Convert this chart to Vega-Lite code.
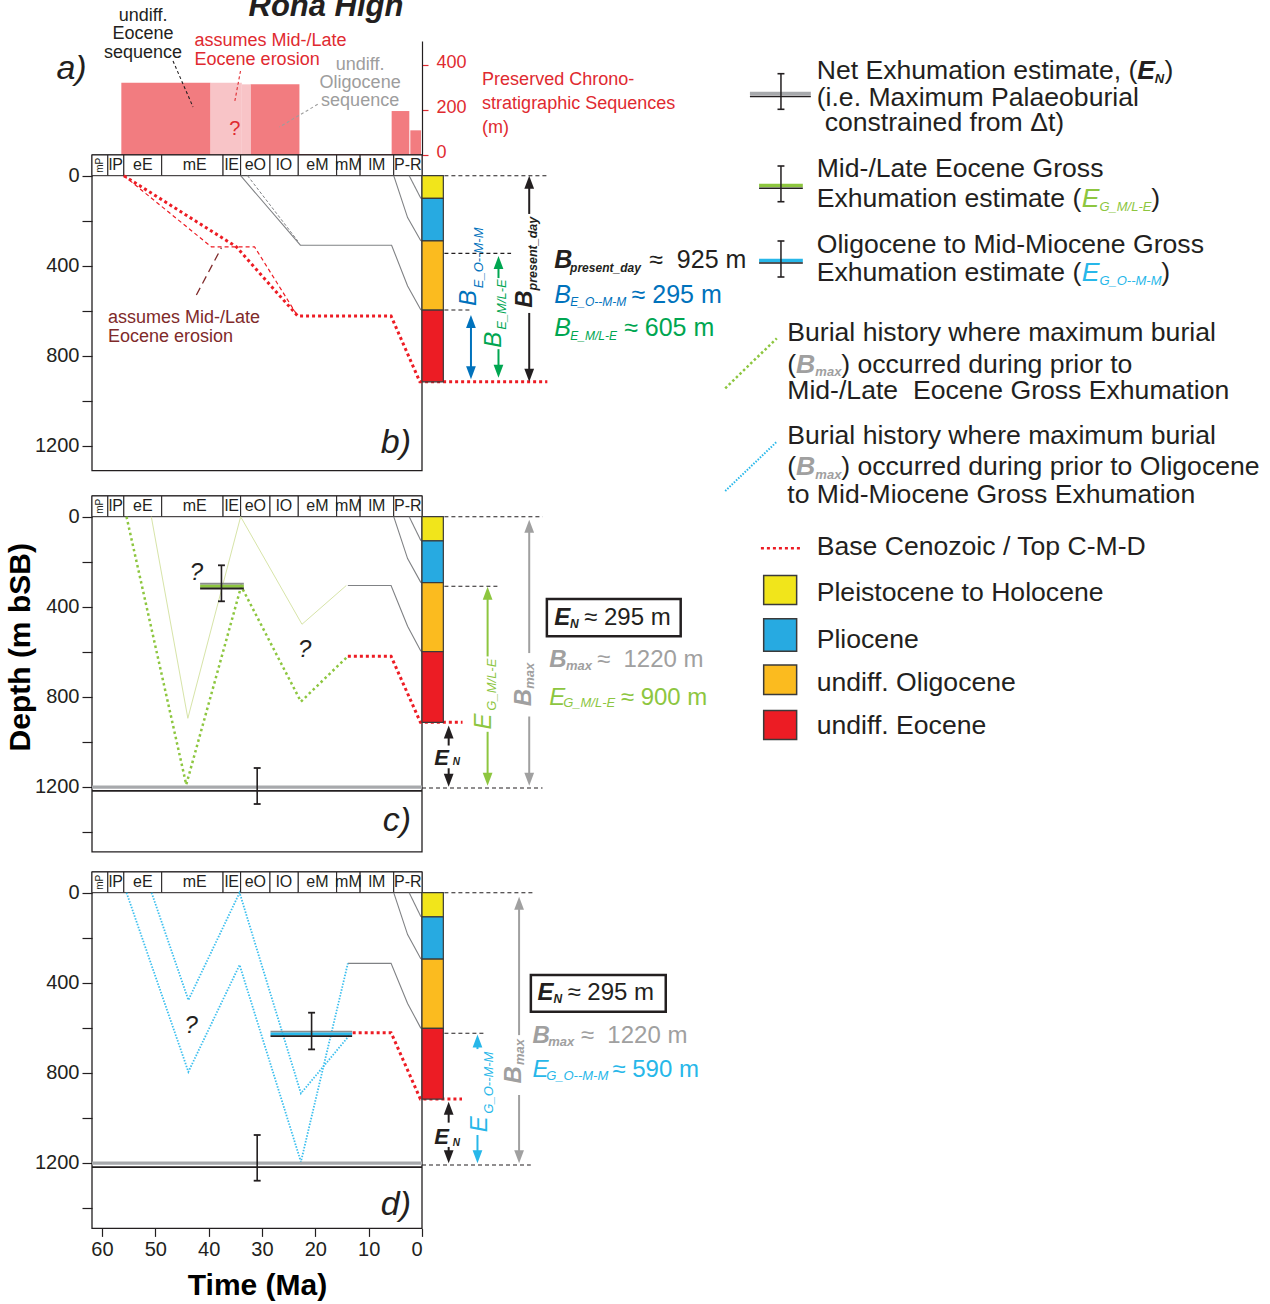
{
"$schema":"https://vega.github.io/schema/vega-lite/v6.json",
"background":"white",
"padding":{"left":6,"top":-10,"right":5,"bottom":5},
"config":{"view":{"stroke":null},"font":"Liberation Sans","axis":{"labelFont":"Liberation Sans","titleFont":"Liberation Sans","grid":false}},
"datasets":{
"strip":[{"t":61.87,"t2":58.9,"d":-92,"d2":0},{"t":58.9,"t2":55.9,"d":-92,"d2":0},{"t":55.9,"t2":48.8,"d":-92,"d2":0},{"t":48.8,"t2":37.3,"d":-92,"d2":0},{"t":37.3,"t2":34.0,"d":-92,"d2":0},{"t":34.0,"t2":28.5,"d":-92,"d2":0},{"t":28.5,"t2":23.2,"d":-92,"d2":0},{"t":23.2,"t2":16.0,"d":-92,"d2":0},{"t":16.0,"t2":11.6,"d":-92,"d2":0},{"t":11.6,"t2":5.3,"d":-92,"d2":0},{"t":5.3,"t2":0,"d":-92,"d2":0}],
"stripLab":[{"t":60.39,"d":-46,"s":"mP"},{"t":57.4,"d":-46,"s":"lP"},{"t":52.35,"d":-46,"s":"eE"},{"t":42.6,"d":-46,"s":"mE"},{"t":35.65,"d":-46,"s":"lE"},{"t":31.25,"d":-46,"s":"eO"},{"t":25.85,"d":-46,"s":"lO"},{"t":19.6,"d":-46,"s":"eM"},{"t":13.8,"d":-46,"s":"mM"},{"t":8.45,"d":-46,"s":"lM"},{"t":2.65,"d":-46,"s":"P-R"}]
},
"spacing":0,
"bounds":"flush",
"vconcat":[
{"width":330,"height":114,
"encoding":{"x":{"field":"t","type":"quantitative","scale":{"domain":[61.87,0],"nice":false,"zero":false},"axis":null},
"y":{"field":"v","type":"quantitative","scale":{"domain":[0,508.2],"nice":false,"zero":false},"axis":{"orient":"right","values":[0,200,400],"format":"d","labelColor":"#df2a30","labelFontSize":18,"labelPadding":8,"labelOffset":-2.5,"tickColor":"#df2a30","tickSize":6,"tickWidth":1.2,"domainColor":"#231f20","domainWidth":1.2,"title":null}}},
"layer":[
{"data":{"values":[{"t":56.37,"t2":39.64,"v":322,"v2":0},{"t":32.15,"t2":22.98,"v":315,"v2":0},{"t":22.98,"t2":5.69,"v":5,"v2":0},{"t":5.69,"t2":2.38,"v":196,"v2":0},{"t":2.19,"t2":0.19,"v":110,"v2":0}]},"mark":{"type":"rect","color":"#f27c80"},"encoding":{"x2":{"field":"t2"},"y2":{"field":"v2"}}},
{"data":{"values":[{"t":39.64,"t2":33.78,"v":322,"v2":0},{"t":33.78,"t2":32.15,"v":315,"v2":0}]},"mark":{"type":"rect","color":"#f8c4c7"},"encoding":{"x2":{"field":"t2"},"y2":{"field":"v2"}}},
{"data":{"values":[{"t":46.68,"t2":42.93,"v":419,"v2":214}]},"mark":{"type":"rule","color":"#231f20","strokeWidth":1.1,"strokeDash":[3,2.5]},"encoding":{"x2":{"field":"t2"},"y2":{"field":"v2"}}},
{"data":{"values":[{"t":34.03,"t2":35.15,"v":374.5,"v2":233.2}]},"mark":{"type":"rule","color":"#df2a30","strokeWidth":1.1,"strokeDash":[3,2.5]},"encoding":{"x2":{"field":"t2"},"y2":{"field":"v2"}}},
{"data":{"values":[{"t":19.55,"t2":26.72,"v":226,"v2":124.8}]},"mark":{"type":"rule","color":"#9d9d9d","strokeWidth":1.1,"strokeDash":[3,2.5]},"encoding":{"x2":{"field":"t2"},"y2":{"field":"v2"}}},
{"data":{"values":[{"t":18.0,"v":619.7,"s":"Rona High"}]},"mark":{"type":"text","align":"center","baseline":"alphabetic","fontSize":31,"fontWeight":"bold","fontStyle":"italic","color":"#231f20"},"encoding":{"text":{"field":"s"}}},
{"data":{"values":[{"t":68.54,"v":337.5,"s":"a)"}]},"mark":{"type":"text","align":"left","baseline":"alphabetic","fontSize":34,"fontStyle":"italic","color":"#231f20"},"encoding":{"text":{"field":"s"}}},
{"data":{"values":[{"t":52.3,"v":617.9,"s":"undiff."},{"t":52.3,"v":540.8,"s":"Eocene"},{"t":52.3,"v":456.1,"s":"sequence"}]},"mark":{"type":"text","align":"center","baseline":"middle","fontSize":18,"color":"#231f20"},"encoding":{"text":{"field":"s"}}},
{"data":{"values":[{"t":42.64,"v":508.2,"s":"assumes Mid-/Late"},{"t":42.64,"v":422,"s":"Eocene erosion"},{"t":-11.27,"v":334.4,"s":"Preserved Chrono-"},{"t":-11.27,"v":227.4,"s":"stratigraphic Sequences"},{"t":-11.27,"v":120.4,"s":"(m)"}]},"mark":{"type":"text","align":"left","baseline":"middle","fontSize":18,"color":"#df2a30"},"encoding":{"text":{"field":"s"}}},
{"data":{"values":[{"t":35.1,"v":114.6,"s":"?"}]},"mark":{"type":"text","align":"center","baseline":"middle","fontSize":20,"color":"#df2a30"},"encoding":{"text":{"field":"s"}}},
{"data":{"values":[{"t":11.6,"v":401.2,"s":"undiff."},{"t":11.6,"v":322.3,"s":"Oligocene"},{"t":11.6,"v":240.7,"s":"sequence"}]},"mark":{"type":"text","align":"center","baseline":"middle","fontSize":18,"color":"#9d9d9d"},"encoding":{"text":{"field":"s"}}}
]},
{"width":330,"height":340.7,
"encoding":{"x":{"field":"t","type":"quantitative","scale":{"domain":[61.87,0],"nice":false,"zero":false},"axis":null},
"y":{"field":"d","type":"quantitative","scale":{"domain":[-92,1422.2],"nice":false,"zero":false,"reverse":true},"axis":{"values":[0,200,400,600,800,1000,1200],"format":"d","labelExpr":"datum.value % 400 === 0 ? datum.label : ''","labelFontSize":20,"labelColor":"#231f20","labelPadding":3,"tickSize":10,"tickColor":"#231f20","tickWidth":1.2,"domain":false,"title":null}}},
"layer":[
{"data":{"values":[{"t":61.87,"t2":0,"d":-92,"d2":1311}]},"mark":{"type":"rect","filled":false,"color":"#231f20","strokeWidth":1.3},"encoding":{"x2":{"field":"t2"},"y2":{"field":"d2"}}},
{"data":{"name":"strip"},"mark":{"type":"rect","fill":"white","stroke":"#231f20","strokeWidth":1},"encoding":{"x2":{"field":"t2"},"y2":{"field":"d2"}}},
{"data":{"name":"stripLab"},"transform":[{"filter":"datum.s !== 'mP'"}],"mark":{"type":"text","align":"center","baseline":"middle","fontSize":16,"color":"#231f20"},"encoding":{"text":{"field":"s"}}},
{"data":{"name":"stripLab"},"transform":[{"filter":"datum.s === 'mP'"}],"mark":{"type":"text","align":"center","baseline":"middle","fontSize":10,"angle":270,"color":"#231f20"},"encoding":{"text":{"field":"s"}}},
{"data":{"values":[{"i":0,"t":55.9,"d":0},{"i":1,"t":39.5,"d":316},{"i":2,"t":31.4,"d":316},{"i":3,"t":23.3,"d":624}]},"mark":{"type":"line","color":"#ed1c24","strokeWidth":1.2,"strokeDash":[4,3]},"encoding":{"order":{"field":"i"}}},
{"data":{"values":[{"p":1,"i":0,"t":34.0,"d":0},{"p":1,"i":1,"t":22.8,"d":309},{"p":1,"i":2,"t":5.7,"d":309},{"p":1,"i":3,"t":2.7,"d":490},{"p":1,"i":4,"t":0.2,"d":597},{"p":2,"i":0,"t":5.3,"d":0},{"p":2,"i":1,"t":2.7,"d":186},{"p":2,"i":2,"t":0.2,"d":290},{"p":3,"i":0,"t":2.4,"d":0},{"p":3,"i":1,"t":0.2,"d":101}]},"mark":{"type":"line","color":"#808285","strokeWidth":1.1},"encoding":{"detail":{"field":"p"},"order":{"field":"i"}}},
{"data":{"values":[{"i":0,"t":32.7,"d":0},{"i":1,"t":23.3,"d":290}]},"mark":{"type":"line","color":"#808285","strokeWidth":1,"strokeDash":[3,2]},"encoding":{"order":{"field":"i"}}},
{"data":{"values":[{"i":0,"t":55.9,"d":0},{"i":1,"t":34.8,"d":316},{"i":2,"t":23.3,"d":624},{"i":3,"t":5.8,"d":624},{"i":4,"t":0.4,"d":916},{"i":5,"t":-23.5,"d":916}]},"mark":{"type":"line","color":"#ed1c24","strokeWidth":3,"strokeDash":[3,3]},"encoding":{"order":{"field":"i"}}},
{"data":{"values":[{"t":42.3,"t2":37.6,"d":530,"d2":320}]},"mark":{"type":"rule","color":"#7f2a2a","strokeWidth":1.3,"strokeDash":[8,5]},"encoding":{"x2":{"field":"t2"},"y2":{"field":"d2"}}},
{"data":{"values":[{"t":58.87,"d":634,"s":"assumes Mid-/Late"},{"t":58.87,"d":714.7,"s":"Eocene erosion"}]},"mark":{"type":"text","align":"left","baseline":"middle","fontSize":18,"color":"#7f2a2a"},"encoding":{"text":{"field":"s"}}},
{"data":{"values":[{"t":2.06,"d":1231,"s":"b)"}]},"mark":{"type":"text","align":"right","baseline":"alphabetic","fontSize":34,"fontStyle":"italic","color":"#231f20"},"encoding":{"text":{"field":"s"}}},
{"data":{"values":[{"t":0,"t2":-4.0,"d":0,"d2":101,"unit":"Pleistocene to Holocene"},{"t":0,"t2":-4.0,"d":101,"d2":290,"unit":"Pliocene"},{"t":0,"t2":-4.0,"d":290,"d2":597,"unit":"undiff. Oligocene"},{"t":0,"t2":-4.0,"d":597,"d2":916,"unit":"undiff. Eocene"}]},"mark":{"type":"rect","stroke":"#3a3a3a","strokeWidth":1.2},"encoding":{"x2":{"field":"t2"},"y2":{"field":"d2"},"color":{"field":"unit","type":"nominal","scale":{"domain":["Pleistocene to Holocene","Pliocene","undiff. Oligocene","undiff. Eocene"],"range":["#f1e51b","#27aae1","#fbbb1f","#ec1c24"]},"legend":null}}},
{"data":{"values":[{"t":-4.2,"t2":-23.5,"d":0},{"t":-4.2,"t2":-16.7,"d":345},{"t":-4.2,"t2":-9.2,"d":597}]},"mark":{"type":"rule","color":"#231f20","strokeWidth":1.1,"strokeDash":[4,3]},"encoding":{"x2":{"field":"t2"}}},
{"data":{"values":[{"t":-20.1,"d":28.9,"d2":170},{"t":-20.1,"d":610,"d2":887}]},"mark":{"type":"rule","color":"#231f20","strokeWidth":2},"encoding":{"y2":{"field":"d2"}}},
{"data":{"values":[{"t":-20.1,"d":28.9,"dir":"up"},{"t":-20.1,"d":887,"dir":"down"}]},"mark":{"type":"point","filled":true,"opacity":1,"size":169,"color":"#231f20","strokeWidth":0},"encoding":{"shape":{"field":"dir","type":"nominal","scale":{"domain":["up","down"],"range":["M-0.75,1L0,-1L0.75,1Z","M-0.75,-1L0,1L0.75,-1Z"]},"legend":null}}},
{"data":{"values":[{"t":-14.34,"d":386,"d2":455},{"t":-14.34,"d":771,"d2":869}]},"mark":{"type":"rule","color":"#00a651","strokeWidth":2},"encoding":{"y2":{"field":"d2"}}},
{"data":{"values":[{"t":-14.34,"d":386,"dir":"up"},{"t":-14.34,"d":869,"dir":"down"}]},"mark":{"type":"point","filled":true,"opacity":1,"size":169,"color":"#00a651","strokeWidth":0},"encoding":{"shape":{"field":"dir","type":"nominal","scale":{"domain":["up","down"],"range":["M-0.75,1L0,-1L0.75,1Z","M-0.75,-1L0,1L0.75,-1Z"]},"legend":null}}},
{"data":{"values":[{"t":-9.18,"d":648,"d2":876}]},"mark":{"type":"rule","color":"#0072bc","strokeWidth":2},"encoding":{"y2":{"field":"d2"}}},
{"data":{"values":[{"t":-9.18,"d":648,"dir":"up"},{"t":-9.18,"d":876,"dir":"down"}]},"mark":{"type":"point","filled":true,"opacity":1,"size":169,"color":"#0072bc","strokeWidth":0},"encoding":{"shape":{"field":"dir","type":"nominal","scale":{"domain":["up","down"],"range":["M-0.75,1L0,-1L0.75,1Z","M-0.75,-1L0,1L0.75,-1Z"]},"legend":null}}},
{"data":{"values":[{"t":-20.66,"d":586.7,"s":"B"}]},"mark":{"type":"text","angle":270,"align":"left","baseline":"alphabetic","fontSize":24,"fontWeight":"bold","fontStyle":"italic","color":"#231f20"},"encoding":{"text":{"field":"s"}}},
{"data":{"values":[{"t":-21.6,"d":510,"s":"present_day"}]},"mark":{"type":"text","angle":270,"align":"left","baseline":"alphabetic","fontSize":12.5,"fontWeight":"bold","fontStyle":"italic","color":"#231f20"},"encoding":{"text":{"field":"s"}}},
{"data":{"values":[{"t":-14.79,"d":764.4,"s":"B"}]},"mark":{"type":"text","angle":270,"align":"left","baseline":"alphabetic","fontSize":24,"fontStyle":"italic","color":"#00a651"},"encoding":{"text":{"field":"s"}}},
{"data":{"values":[{"t":-15.8,"d":685,"s":"E_M/L-E"}]},"mark":{"type":"text","angle":270,"align":"left","baseline":"alphabetic","fontSize":13,"fontStyle":"italic","color":"#00a651"},"encoding":{"text":{"field":"s"}}},
{"data":{"values":[{"t":-10.11,"d":579,"s":"B"}]},"mark":{"type":"text","angle":270,"align":"left","baseline":"alphabetic","fontSize":24,"fontStyle":"italic","color":"#0072bc"},"encoding":{"text":{"field":"s"}}},
{"data":{"values":[{"t":-11.48,"d":500,"s":"E_O--M-M"}]},"mark":{"type":"text","angle":270,"align":"left","baseline":"alphabetic","fontSize":13,"fontStyle":"italic","color":"#0072bc"},"encoding":{"text":{"field":"s"}}},
{"data":{"values":[{"t":-24.78,"d":408.9,"s":"B"}]},"mark":{"type":"text","align":"left","baseline":"alphabetic","fontSize":25,"fontWeight":"bold","fontStyle":"italic","color":"#231f20"},"encoding":{"text":{"field":"s"}}},
{"data":{"values":[{"t":-27.77,"d":425.8,"s":"present_day"}]},"mark":{"type":"text","align":"left","baseline":"alphabetic","fontSize":12,"fontWeight":"bold","fontStyle":"italic","color":"#231f20"},"encoding":{"text":{"field":"s"}}},
{"data":{"values":[{"t":-42.6,"d":408.9,"s":"≈\u00a0 925 m"}]},"mark":{"type":"text","align":"left","baseline":"alphabetic","fontSize":25,"color":"#231f20"},"encoding":{"text":{"field":"s"}}},
{"data":{"values":[{"t":-24.78,"d":564.4,"s":"B"}]},"mark":{"type":"text","align":"left","baseline":"alphabetic","fontSize":25,"fontStyle":"italic","color":"#0072bc"},"encoding":{"text":{"field":"s"}}},
{"data":{"values":[{"t":-39.3,"d":564.4,"s":"≈ 295 m"}]},"mark":{"type":"text","align":"left","baseline":"alphabetic","fontSize":25,"color":"#0072bc"},"encoding":{"text":{"field":"s"}}},
{"data":{"values":[{"t":-27.8,"d":579.1,"s":"E_O--M-M"}]},"mark":{"type":"text","align":"left","baseline":"alphabetic","fontSize":12,"fontStyle":"italic","color":"#0072bc"},"encoding":{"text":{"field":"s"}}},
{"data":{"values":[{"t":-24.78,"d":712.4,"s":"B"}]},"mark":{"type":"text","align":"left","baseline":"alphabetic","fontSize":25,"fontStyle":"italic","color":"#00a651"},"encoding":{"text":{"field":"s"}}},
{"data":{"values":[{"t":-37.9,"d":712.4,"s":"≈ 605 m"}]},"mark":{"type":"text","align":"left","baseline":"alphabetic","fontSize":25,"color":"#00a651"},"encoding":{"text":{"field":"s"}}},
{"data":{"values":[{"t":-27.8,"d":728,"s":"E_M/L-E"}]},"mark":{"type":"text","align":"left","baseline":"alphabetic","fontSize":12,"fontStyle":"italic","color":"#00a651"},"encoding":{"text":{"field":"s"}}},
{"data":{"values":[{"t":-61.48,"t2":-72.9,"d":-365}]},"mark":{"type":"rule","color":"#a7a9ac","strokeWidth":3.5},"encoding":{"x2":{"field":"t2"}}},
{"data":{"values":[{"t":-63.2,"t2":-71.4,"d":43.6}]},"mark":{"type":"rule","color":"#8dc63f","strokeWidth":3.5},"encoding":{"x2":{"field":"t2"}}},
{"data":{"values":[{"t":-63.2,"t2":-71.4,"d":376.9}]},"mark":{"type":"rule","color":"#27b7e9","strokeWidth":3.5},"encoding":{"x2":{"field":"t2"}}},
{"data":{"values":[{"t":-61.48,"t2":-72.9,"d":-352},{"t":-63.2,"t2":-71.4,"d":56},{"t":-63.2,"t2":-71.4,"d":388},{"t":-66.65,"t2":-67.95,"d":-453.3},{"t":-66.65,"t2":-67.95,"d":-295.1},{"t":-66.65,"t2":-67.95,"d":-43.1},{"t":-66.65,"t2":-67.95,"d":115.6},{"t":-66.65,"t2":-67.95,"d":290.2},{"t":-66.65,"t2":-67.95,"d":450.2}]},"mark":{"type":"rule","color":"#231f20","strokeWidth":1.6},"encoding":{"x2":{"field":"t2"}}},
{"data":{"values":[{"t":-67.3,"d":-453.3,"d2":-295.1},{"t":-67.3,"d":-43.1,"d2":115.6},{"t":-67.3,"d":290.2,"d2":450.2}]},"mark":{"type":"rule","color":"#231f20","strokeWidth":1.5},"encoding":{"y2":{"field":"d2"}}},
{"data":{"values":[{"t":-56.85,"t2":-66.52,"d":944.9,"d2":722.7}]},"mark":{"type":"rule","color":"#8dc63f","strokeWidth":2.5,"strokeDash":[2.5,2.5]},"encoding":{"x2":{"field":"t2"},"y2":{"field":"d2"}}},
{"data":{"values":[{"t":-56.85,"t2":-66.52,"d":1401.3,"d2":1182.2}]},"mark":{"type":"rule","color":"#27b7e9","strokeWidth":2,"strokeDash":[1.5,1.5]},"encoding":{"x2":{"field":"t2"},"y2":{"field":"d2"}}},
{"data":{"values":[{"t":-63.54,"t2":-70.92,"d":1656}]},"mark":{"type":"rule","color":"#ed1c24","strokeWidth":2.5,"strokeDash":[3,3]},"encoding":{"x2":{"field":"t2"}}},
{"data":{"values":[{"t":-64.06,"t2":-70.24,"d":1776.4,"d2":1905.3,"unit":"Pleistocene to Holocene"},{"t":-64.06,"t2":-70.24,"d":1969.3,"d2":2113.3,"unit":"Pliocene"},{"t":-64.06,"t2":-70.24,"d":2174.7,"d2":2305.3,"unit":"undiff. Oligocene"},{"t":-64.06,"t2":-70.24,"d":2376.4,"d2":2505.3,"unit":"undiff. Eocene"}]},"mark":{"type":"rect","stroke":"#3a3a3a","strokeWidth":1.5},"encoding":{"x2":{"field":"t2"},"y2":{"field":"d2"},"color":{"field":"unit","type":"nominal","scale":{"domain":["Pleistocene to Holocene","Pliocene","undiff. Oligocene","undiff. Eocene"],"range":["#f1e51b","#27aae1","#fbbb1f","#ec1c24"]},"legend":null}}},
{"data":{"values":[
{"t":-74.0,"d":-428.4,"s":"Net Exhumation estimate, ("},
{"t":-74.0,"d":-309.8,"s":"(i.e. Maximum Palaeoburial"},
{"t":-75.5,"d":-198.7,"s":"constrained from Δt)"},
{"t":-139.2,"d":-428.4,"s":")"},
{"t":-74.0,"d":5.8,"s":"Mid-/Late Eocene Gross"},
{"t":-74.0,"d":139.1,"s":"Exhumation estimate ("},
{"t":-136.7,"d":139.1,"s":")"},
{"t":-74.0,"d":342.2,"s":"Oligocene to Mid-Miocene Gross"},
{"t":-74.0,"d":468,"s":"Exhumation estimate ("},
{"t":-138.6,"d":468,"s":")"},
{"t":-68.48,"d":734.7,"s":"Burial history where maximum burial"},
{"t":-68.48,"d":875.6,"s":"("},
{"t":-78.6,"d":875.6,"s":") occurred during prior to"},
{"t":-68.48,"d":993.8,"s":"Mid-/Late\u00a0 Eocene Gross Exhumation"},
{"t":-68.48,"d":1191.1,"s":"Burial history where maximum burial"},
{"t":-68.48,"d":1331.6,"s":"("},
{"t":-78.6,"d":1331.6,"s":") occurred during prior to Oligocene"},
{"t":-68.48,"d":1453.3,"s":"to Mid-Miocene Gross Exhumation"},
{"t":-74.0,"d":1685.8,"s":"Base Cenozoic / Top C-M-D"},
{"t":-74.0,"d":1890.2,"s":"Pleistocene to Holocene"},
{"t":-74.0,"d":2097.8,"s":"Pliocene"},
{"t":-74.0,"d":2290.2,"s":"undiff. Oligocene"},
{"t":-74.0,"d":2482.7,"s":"undiff. Eocene"}
]},"mark":{"type":"text","align":"left","baseline":"alphabetic","fontSize":26.6,"color":"#231f20"},"encoding":{"text":{"field":"s"}}},
{"data":{"values":[{"t":-134.1,"d":-428.4,"s":"E"}]},"mark":{"type":"text","align":"left","baseline":"alphabetic","fontSize":26.6,"fontWeight":"bold","fontStyle":"italic","color":"#231f20"},"encoding":{"text":{"field":"s"}}},
{"data":{"values":[{"t":-137.4,"d":-412.9,"s":"N"}]},"mark":{"type":"text","align":"left","baseline":"alphabetic","fontSize":13,"fontWeight":"bold","fontStyle":"italic","color":"#231f20"},"encoding":{"text":{"field":"s"}}},
{"data":{"values":[{"t":-123.7,"d":139.1,"s":"E"}]},"mark":{"type":"text","align":"left","baseline":"alphabetic","fontSize":26.6,"fontStyle":"italic","color":"#8dc63f"},"encoding":{"text":{"field":"s"}}},
{"data":{"values":[{"t":-127.0,"d":154.7,"s":"G_M/L-E"}]},"mark":{"type":"text","align":"left","baseline":"alphabetic","fontSize":13,"fontStyle":"italic","color":"#8dc63f"},"encoding":{"text":{"field":"s"}}},
{"data":{"values":[{"t":-123.7,"d":468,"s":"E"}]},"mark":{"type":"text","align":"left","baseline":"alphabetic","fontSize":26.6,"fontStyle":"italic","color":"#27b7e9"},"encoding":{"text":{"field":"s"}}},
{"data":{"values":[{"t":-127.0,"d":483.6,"s":"G_O--M-M"}]},"mark":{"type":"text","align":"left","baseline":"alphabetic","fontSize":13,"fontStyle":"italic","color":"#27b7e9"},"encoding":{"text":{"field":"s"}}},
{"data":{"values":[{"t":-70.14,"d":875.6,"s":"B"},{"t":-70.14,"d":1331.6,"s":"B"}]},"mark":{"type":"text","align":"left","baseline":"alphabetic","fontSize":26.6,"fontWeight":"bold","fontStyle":"italic","color":"#a0a0a0"},"encoding":{"text":{"field":"s"}}},
{"data":{"values":[{"t":-73.75,"d":890.2,"s":"max"},{"t":-73.75,"d":1346.2,"s":"max"}]},"mark":{"type":"text","align":"left","baseline":"alphabetic","fontSize":13,"fontWeight":"bold","fontStyle":"italic","color":"#a0a0a0"},"encoding":{"text":{"field":"s"}}}
]},
{"width":330,"height":375.6,
"encoding":{"x":{"field":"t","type":"quantitative","scale":{"domain":[61.87,0],"nice":false,"zero":false},"axis":null},
"y":{"field":"d","type":"quantitative","scale":{"domain":[-92,1577.3],"nice":false,"zero":false,"reverse":true},"axis":{"values":[0,200,400,600,800,1000,1200,1400],"format":"d","labelExpr":"datum.value % 400 === 0 ? datum.label : ''","labelFontSize":20,"labelColor":"#231f20","labelPadding":3,"tickSize":10,"tickColor":"#231f20","tickWidth":1.2,"domain":false,"title":null}}},
"layer":[
{"data":{"values":[{"t":61.87,"t2":0,"d":-92,"d2":1490}]},"mark":{"type":"rect","filled":false,"color":"#231f20","strokeWidth":1.3},"encoding":{"x2":{"field":"t2"},"y2":{"field":"d2"}}},
{"data":{"name":"strip"},"mark":{"type":"rect","fill":"white","stroke":"#231f20","strokeWidth":1},"encoding":{"x2":{"field":"t2"},"y2":{"field":"d2"}}},
{"data":{"name":"stripLab"},"transform":[{"filter":"datum.s !== 'mP'"}],"mark":{"type":"text","align":"center","baseline":"middle","fontSize":16,"color":"#231f20"},"encoding":{"text":{"field":"s"}}},
{"data":{"name":"stripLab"},"transform":[{"filter":"datum.s === 'mP'"}],"mark":{"type":"text","align":"center","baseline":"middle","fontSize":10,"angle":270,"color":"#231f20"},"encoding":{"text":{"field":"s"}}},
{"data":{"values":[{"i":0,"t":50.75,"d":0},{"i":1,"t":43.9,"d":896},{"i":2,"t":34.0,"d":0},{"i":3,"t":22.5,"d":478},{"i":4,"t":14.2,"d":306}]},"mark":{"type":"line","color":"#d7e4a8","strokeWidth":1},"encoding":{"order":{"field":"i"}}},
{"data":{"values":[{"p":1,"i":0,"t":13.9,"d":306},{"p":1,"i":1,"t":5.8,"d":306},{"p":1,"i":2,"t":2.7,"d":487},{"p":1,"i":3,"t":0.2,"d":598},{"p":2,"i":0,"t":5.3,"d":0},{"p":2,"i":1,"t":2.7,"d":186},{"p":2,"i":2,"t":0.2,"d":293},{"p":3,"i":0,"t":2.4,"d":0},{"p":3,"i":1,"t":0.2,"d":107}]},"mark":{"type":"line","color":"#808285","strokeWidth":1.1},"encoding":{"detail":{"field":"p"},"order":{"field":"i"}}},
{"data":{"values":[{"i":0,"t":55.4,"d":0},{"i":1,"t":44.2,"d":1191},{"i":2,"t":33.9,"d":309},{"i":3,"t":22.7,"d":822},{"i":4,"t":13.9,"d":620}]},"mark":{"type":"line","color":"#8dc63f","strokeWidth":2.5,"strokeDash":[2.5,3]},"encoding":{"order":{"field":"i"}}},
{"data":{"values":[{"i":0,"t":13.9,"d":620},{"i":1,"t":5.8,"d":620},{"i":2,"t":0.3,"d":914},{"i":3,"t":-7.6,"d":914}]},"mark":{"type":"line","color":"#ed1c24","strokeWidth":3,"strokeDash":[3,3]},"encoding":{"order":{"field":"i"}}},
{"data":{"values":[{"t":61.87,"t2":0,"d":1201.8}]},"mark":{"type":"rule","color":"#a7a9ac","strokeWidth":3.2},"encoding":{"x2":{"field":"t2"}}},
{"data":{"values":[{"t":41.6,"t2":33.4,"d":298}]},"mark":{"type":"rule","color":"#8a8c8e","strokeWidth":1.8},"encoding":{"x2":{"field":"t2"}}},
{"data":{"values":[{"t":41.6,"t2":33.4,"d":309}]},"mark":{"type":"rule","color":"#8dc63f","strokeWidth":3},"encoding":{"x2":{"field":"t2"}}},
{"data":{"values":[{"t":61.87,"t2":0,"d":1218.2},{"t":41.6,"t2":33.4,"d":319},{"t":38.25,"t2":36.95,"d":216},{"t":38.25,"t2":36.95,"d":376},{"t":31.55,"t2":30.25,"d":1116.9},{"t":31.55,"t2":30.25,"d":1276.9}]},"mark":{"type":"rule","color":"#231f20","strokeWidth":1.8},"encoding":{"x2":{"field":"t2"}}},
{"data":{"values":[{"t":37.6,"d":216,"d2":376},{"t":30.9,"d":1116.9,"d2":1276.9}]},"mark":{"type":"rule","color":"#231f20","strokeWidth":1.6},"encoding":{"y2":{"field":"d2"}}},
{"data":{"values":[{"t":42.3,"d":251.6,"s":"?"},{"t":22.0,"d":593.8,"s":"?"}]},"mark":{"type":"text","align":"center","baseline":"middle","fontSize":24,"fontStyle":"italic","color":"#231f20"},"encoding":{"text":{"field":"s"}}},
{"data":{"values":[{"t":2.06,"d":1398,"s":"c)"}]},"mark":{"type":"text","align":"right","baseline":"alphabetic","fontSize":34,"fontStyle":"italic","color":"#231f20"},"encoding":{"text":{"field":"s"}}},
{"data":{"values":[{"t":75.13,"d":580.4,"s":"Depth (m bSB)"}]},"mark":{"type":"text","angle":270,"align":"center","baseline":"middle","fontSize":30,"fontWeight":"bold","color":"#000000"},"encoding":{"text":{"field":"s"}}},
{"data":{"values":[{"t":0,"t2":-4.0,"d":0,"d2":107,"unit":"Pleistocene to Holocene"},{"t":0,"t2":-4.0,"d":107,"d2":293,"unit":"Pliocene"},{"t":0,"t2":-4.0,"d":293,"d2":600,"unit":"undiff. Oligocene"},{"t":0,"t2":-4.0,"d":600,"d2":914,"unit":"undiff. Eocene"}]},"mark":{"type":"rect","stroke":"#3a3a3a","strokeWidth":1.2},"encoding":{"x2":{"field":"t2"},"y2":{"field":"d2"},"color":{"field":"unit","type":"nominal","scale":{"domain":["Pleistocene to Holocene","Pliocene","undiff. Oligocene","undiff. Eocene"],"range":["#f1e51b","#27aae1","#fbbb1f","#ec1c24"]},"legend":null}}},
{"data":{"values":[{"t":-4.2,"t2":-22.6,"d":0},{"t":-4.2,"t2":-14.2,"d":309},{"t":0,"t2":-22.6,"d":1206}]},"mark":{"type":"rule","color":"#231f20","strokeWidth":1.1,"strokeDash":[4,3]},"encoding":{"x2":{"field":"t2"}}},
{"data":{"values":[{"t":-5.0,"d":957,"d2":1017},{"t":-5.0,"d":1118,"d2":1171}]},"mark":{"type":"rule","color":"#231f20","strokeWidth":2},"encoding":{"y2":{"field":"d2"}}},
{"data":{"values":[{"t":-5.0,"d":957,"dir":"up"},{"t":-5.0,"d":1171,"dir":"down"}]},"mark":{"type":"point","filled":true,"opacity":1,"size":169,"color":"#231f20","strokeWidth":0},"encoding":{"shape":{"field":"dir","type":"nominal","scale":{"domain":["up","down"],"range":["M-0.75,1L0,-1L0.75,1Z","M-0.75,-1L0,1L0.75,-1Z"]},"legend":null}}},
{"data":{"values":[{"t":-12.3,"d":340,"d2":621},{"t":-12.3,"d":956,"d2":1167}]},"mark":{"type":"rule","color":"#8dc63f","strokeWidth":2},"encoding":{"y2":{"field":"d2"}}},
{"data":{"values":[{"t":-12.3,"d":340,"dir":"up"},{"t":-12.3,"d":1167,"dir":"down"}]},"mark":{"type":"point","filled":true,"opacity":1,"size":169,"color":"#8dc63f","strokeWidth":0},"encoding":{"shape":{"field":"dir","type":"nominal","scale":{"domain":["up","down"],"range":["M-0.75,1L0,-1L0.75,1Z","M-0.75,-1L0,1L0.75,-1Z"]},"legend":null}}},
{"data":{"values":[{"t":-20.1,"d":42,"d2":606},{"t":-20.1,"d":888,"d2":1167}]},"mark":{"type":"rule","color":"#a0a0a0","strokeWidth":2},"encoding":{"y2":{"field":"d2"}}},
{"data":{"values":[{"t":-20.1,"d":42,"dir":"up"},{"t":-20.1,"d":1167,"dir":"down"}]},"mark":{"type":"point","filled":true,"opacity":1,"size":169,"color":"#a0a0a0","strokeWidth":0},"encoding":{"shape":{"field":"dir","type":"nominal","scale":{"domain":["up","down"],"range":["M-0.75,1L0,-1L0.75,1Z","M-0.75,-1L0,1L0.75,-1Z"]},"legend":null}}},
{"data":{"values":[{"t":-2.30,"d":1101.6,"s":"E"}]},"mark":{"type":"text","align":"left","baseline":"alphabetic","fontSize":22,"fontWeight":"bold","fontStyle":"italic","color":"#231f20"},"encoding":{"text":{"field":"s"}}},
{"data":{"values":[{"t":-5.77,"d":1104.9,"s":"N"}]},"mark":{"type":"text","align":"left","baseline":"alphabetic","fontSize":10,"fontWeight":"bold","fontStyle":"italic","color":"#231f20"},"encoding":{"text":{"field":"s"}}},
{"data":{"values":[{"t":-12.92,"d":946,"s":"E"}]},"mark":{"type":"text","angle":270,"align":"left","baseline":"alphabetic","fontSize":24,"fontStyle":"italic","color":"#8dc63f"},"encoding":{"text":{"field":"s"}}},
{"data":{"values":[{"t":-13.86,"d":862,"s":"G_M/L-E"}]},"mark":{"type":"text","angle":270,"align":"left","baseline":"alphabetic","fontSize":13,"fontStyle":"italic","color":"#8dc63f"},"encoding":{"text":{"field":"s"}}},
{"data":{"values":[{"t":-20.41,"d":842,"s":"B"}]},"mark":{"type":"text","angle":270,"align":"left","baseline":"alphabetic","fontSize":24,"fontWeight":"bold","fontStyle":"italic","color":"#a0a0a0"},"encoding":{"text":{"field":"s"}}},
{"data":{"values":[{"t":-21.03,"d":765,"s":"max"}]},"mark":{"type":"text","angle":270,"align":"left","baseline":"alphabetic","fontSize":13,"fontWeight":"bold","fontStyle":"italic","color":"#a0a0a0"},"encoding":{"text":{"field":"s"}}},
{"data":{"values":[{"t":-23.41,"t2":-48.5,"d":365.8,"d2":531.6}]},"mark":{"type":"rect","fill":"white","stroke":"#231f20","strokeWidth":2.5},"encoding":{"x2":{"field":"t2"},"y2":{"field":"d2"}}},
{"data":{"values":[{"t":-24.78,"d":482.7,"s":"E"}]},"mark":{"type":"text","align":"left","baseline":"alphabetic","fontSize":24,"fontWeight":"bold","fontStyle":"italic","color":"#231f20"},"encoding":{"text":{"field":"s"}}},
{"data":{"values":[{"t":-27.77,"d":496,"s":"N"}]},"mark":{"type":"text","align":"left","baseline":"alphabetic","fontSize":12,"fontWeight":"bold","fontStyle":"italic","color":"#231f20"},"encoding":{"text":{"field":"s"}}},
{"data":{"values":[{"t":-30.39,"d":482.7,"s":"≈ 295 m"}]},"mark":{"type":"text","align":"left","baseline":"alphabetic","fontSize":24,"color":"#231f20"},"encoding":{"text":{"field":"s"}}},
{"data":{"values":[{"t":-23.84,"d":667.6,"s":"B"}]},"mark":{"type":"text","align":"left","baseline":"alphabetic","fontSize":24,"fontWeight":"bold","fontStyle":"italic","color":"#a0a0a0"},"encoding":{"text":{"field":"s"}}},
{"data":{"values":[{"t":-27.0,"d":682,"s":"max"}]},"mark":{"type":"text","align":"left","baseline":"alphabetic","fontSize":13,"fontWeight":"bold","fontStyle":"italic","color":"#a0a0a0"},"encoding":{"text":{"field":"s"}}},
{"data":{"values":[{"t":-32.8,"d":667.6,"s":"≈\u00a0 1220 m"}]},"mark":{"type":"text","align":"left","baseline":"alphabetic","fontSize":24,"color":"#a0a0a0"},"encoding":{"text":{"field":"s"}}},
{"data":{"values":[{"t":-23.84,"d":835,"s":"E"}]},"mark":{"type":"text","align":"left","baseline":"alphabetic","fontSize":24,"fontStyle":"italic","color":"#8dc63f"},"encoding":{"text":{"field":"s"}}},
{"data":{"values":[{"t":-26.46,"d":847,"s":"G_M/L-E"}]},"mark":{"type":"text","align":"left","baseline":"alphabetic","fontSize":13,"fontStyle":"italic","color":"#8dc63f"},"encoding":{"text":{"field":"s"}}},
{"data":{"values":[{"t":-37.27,"d":835,"s":"≈ 900 m"}]},"mark":{"type":"text","align":"left","baseline":"alphabetic","fontSize":24,"color":"#8dc63f"},"encoding":{"text":{"field":"s"}}}
]},
{"width":330,"height":356.4,
"encoding":{"x":{"field":"t","type":"quantitative","scale":{"domain":[61.87,0],"nice":false,"zero":false},"axis":{"values":[60,50,40,30,20,10,0],"format":"d","labelFontSize":20,"labelColor":"#231f20","labelPadding":3,"tickSize":8,"tickColor":"#231f20","tickWidth":1.2,"domain":false,"title":"Time (Ma)","titleFontSize":30,"titleFontWeight":"bold","titleColor":"#000000","titlePadding":11}},
"y":{"field":"d","type":"quantitative","scale":{"domain":[-92,1492],"nice":false,"zero":false,"reverse":true},"axis":{"values":[0,200,400,600,800,1000,1200,1400],"format":"d","labelExpr":"datum.value % 400 === 0 ? datum.label : ''","labelFontSize":20,"labelColor":"#231f20","labelPadding":3,"tickSize":10,"tickColor":"#231f20","tickWidth":1.2,"domain":false,"title":null}}},
"layer":[
{"data":{"values":[{"t":61.87,"t2":0,"d":-92,"d2":1492}]},"mark":{"type":"rect","filled":false,"color":"#231f20","strokeWidth":1.3},"encoding":{"x2":{"field":"t2"},"y2":{"field":"d2"}}},
{"data":{"name":"strip"},"mark":{"type":"rect","fill":"white","stroke":"#231f20","strokeWidth":1},"encoding":{"x2":{"field":"t2"},"y2":{"field":"d2"}}},
{"data":{"name":"stripLab"},"transform":[{"filter":"datum.s !== 'mP'"}],"mark":{"type":"text","align":"center","baseline":"middle","fontSize":16,"color":"#231f20"},"encoding":{"text":{"field":"s"}}},
{"data":{"name":"stripLab"},"transform":[{"filter":"datum.s === 'mP'"}],"mark":{"type":"text","align":"center","baseline":"middle","fontSize":10,"angle":270,"color":"#231f20"},"encoding":{"text":{"field":"s"}}},
{"data":{"values":[{"p":1,"i":0,"t":13.9,"d":314},{"p":1,"i":1,"t":5.8,"d":314},{"p":1,"i":2,"t":2.7,"d":492},{"p":1,"i":3,"t":0.2,"d":603},{"p":2,"i":0,"t":5.3,"d":0},{"p":2,"i":1,"t":2.7,"d":186},{"p":2,"i":2,"t":0.2,"d":295},{"p":3,"i":0,"t":2.4,"d":0},{"p":3,"i":1,"t":0.2,"d":107}]},"mark":{"type":"line","color":"#808285","strokeWidth":1.1},"encoding":{"detail":{"field":"p"},"order":{"field":"i"}}},
{"data":{"values":[{"p":1,"i":0,"t":55.4,"d":0},{"p":1,"i":1,"t":43.8,"d":796},{"p":1,"i":2,"t":34.2,"d":321},{"p":1,"i":3,"t":22.7,"d":1196},{"p":1,"i":4,"t":13.9,"d":314},{"p":2,"i":0,"t":50.7,"d":0},{"p":2,"i":1,"t":43.8,"d":477},{"p":2,"i":2,"t":34.2,"d":0},{"p":2,"i":3,"t":22.7,"d":892},{"p":2,"i":4,"t":13.3,"d":625}]},"mark":{"type":"line","color":"#3cbfee","strokeWidth":1.8,"strokeDash":[1.5,1.5]},"encoding":{"detail":{"field":"p"},"order":{"field":"i"}}},
{"data":{"values":[{"i":0,"t":13.0,"d":622},{"i":1,"t":5.8,"d":622},{"i":2,"t":0.3,"d":917},{"i":3,"t":-7.5,"d":917}]},"mark":{"type":"line","color":"#ed1c24","strokeWidth":3,"strokeDash":[3,3]},"encoding":{"order":{"field":"i"}}},
{"data":{"values":[{"t":61.87,"t2":0,"d":1202.2}]},"mark":{"type":"rule","color":"#a7a9ac","strokeWidth":3.2},"encoding":{"x2":{"field":"t2"}}},
{"data":{"values":[{"t":28.4,"t2":13.1,"d":617}]},"mark":{"type":"rule","color":"#8a8c8e","strokeWidth":1.8},"encoding":{"x2":{"field":"t2"}}},
{"data":{"values":[{"t":28.4,"t2":13.1,"d":627.6}]},"mark":{"type":"rule","color":"#27b7e9","strokeWidth":3},"encoding":{"x2":{"field":"t2"}}},
{"data":{"values":[{"t":61.87,"t2":0,"d":1220},{"t":28.4,"t2":13.1,"d":637.3},{"t":21.35,"t2":20.05,"d":533.3},{"t":21.35,"t2":20.05,"d":696.4},{"t":31.55,"t2":30.25,"d":1076.9},{"t":31.55,"t2":30.25,"d":1280}]},"mark":{"type":"rule","color":"#231f20","strokeWidth":1.8},"encoding":{"x2":{"field":"t2"}}},
{"data":{"values":[{"t":20.7,"d":533.3,"d2":696.4},{"t":30.9,"d":1076.9,"d2":1280}]},"mark":{"type":"rule","color":"#231f20","strokeWidth":1.6},"encoding":{"y2":{"field":"d2"}}},
{"data":{"values":[{"t":43.26,"d":592.4,"s":"?"}]},"mark":{"type":"text","align":"center","baseline":"middle","fontSize":24,"fontStyle":"italic","color":"#231f20"},"encoding":{"text":{"field":"s"}}},
{"data":{"values":[{"t":2.06,"d":1432.4,"s":"d)"}]},"mark":{"type":"text","align":"right","baseline":"alphabetic","fontSize":34,"fontStyle":"italic","color":"#231f20"},"encoding":{"text":{"field":"s"}}},
{"data":{"values":[{"t":0,"t2":-4.0,"d":0,"d2":107,"unit":"Pleistocene to Holocene"},{"t":0,"t2":-4.0,"d":107,"d2":295,"unit":"Pliocene"},{"t":0,"t2":-4.0,"d":295,"d2":603,"unit":"undiff. Oligocene"},{"t":0,"t2":-4.0,"d":603,"d2":917,"unit":"undiff. Eocene"}]},"mark":{"type":"rect","stroke":"#3a3a3a","strokeWidth":1.2},"encoding":{"x2":{"field":"t2"},"y2":{"field":"d2"},"color":{"field":"unit","type":"nominal","scale":{"domain":["Pleistocene to Holocene","Pliocene","undiff. Oligocene","undiff. Eocene"],"range":["#f1e51b","#27aae1","#fbbb1f","#ec1c24"]},"legend":null}}},
{"data":{"values":[{"t":-4.2,"t2":-20.7,"d":0},{"t":-4.2,"t2":-11.7,"d":625},{"t":0,"t2":-20.4,"d":1210}]},"mark":{"type":"rule","color":"#231f20","strokeWidth":1.1,"strokeDash":[4,3]},"encoding":{"x2":{"field":"t2"}}},
{"data":{"values":[{"t":-5.0,"d":958,"d2":1022},{"t":-5.0,"d":1130,"d2":1174}]},"mark":{"type":"rule","color":"#231f20","strokeWidth":2},"encoding":{"y2":{"field":"d2"}}},
{"data":{"values":[{"t":-5.0,"d":958,"dir":"up"},{"t":-5.0,"d":1174,"dir":"down"}]},"mark":{"type":"point","filled":true,"opacity":1,"size":169,"color":"#231f20","strokeWidth":0},"encoding":{"shape":{"field":"dir","type":"nominal","scale":{"domain":["up","down"],"range":["M-0.75,1L0,-1L0.75,1Z","M-0.75,-1L0,1L0.75,-1Z"]},"legend":null}}},
{"data":{"values":[{"t":-10.4,"d":659,"d2":695},{"t":-10.4,"d":1077,"d2":1174}]},"mark":{"type":"rule","color":"#27b7e9","strokeWidth":2},"encoding":{"y2":{"field":"d2"}}},
{"data":{"values":[{"t":-10.4,"d":659,"dir":"up"},{"t":-10.4,"d":1174,"dir":"down"}]},"mark":{"type":"point","filled":true,"opacity":1,"size":169,"color":"#27b7e9","strokeWidth":0},"encoding":{"shape":{"field":"dir","type":"nominal","scale":{"domain":["up","down"],"range":["M-0.75,1L0,-1L0.75,1Z","M-0.75,-1L0,1L0.75,-1Z"]},"legend":null}}},
{"data":{"values":[{"t":-18.2,"d":47,"d2":633},{"t":-18.2,"d":899,"d2":1174}]},"mark":{"type":"rule","color":"#a0a0a0","strokeWidth":2},"encoding":{"y2":{"field":"d2"}}},
{"data":{"values":[{"t":-18.2,"d":47,"dir":"up"},{"t":-18.2,"d":1174,"dir":"down"}]},"mark":{"type":"point","filled":true,"opacity":1,"size":169,"color":"#a0a0a0","strokeWidth":0},"encoding":{"shape":{"field":"dir","type":"nominal","scale":{"domain":["up","down"],"range":["M-0.75,1L0,-1L0.75,1Z","M-0.75,-1L0,1L0.75,-1Z"]},"legend":null}}},
{"data":{"values":[{"t":-2.30,"d":1119.1,"s":"E"}]},"mark":{"type":"text","align":"left","baseline":"alphabetic","fontSize":22,"fontWeight":"bold","fontStyle":"italic","color":"#231f20"},"encoding":{"text":{"field":"s"}}},
{"data":{"values":[{"t":-5.77,"d":1124.4,"s":"N"}]},"mark":{"type":"text","align":"left","baseline":"alphabetic","fontSize":10,"fontWeight":"bold","fontStyle":"italic","color":"#231f20"},"encoding":{"text":{"field":"s"}}},
{"data":{"values":[{"t":-12.28,"d":1064.9,"s":"E"}]},"mark":{"type":"text","angle":270,"align":"left","baseline":"alphabetic","fontSize":24,"fontStyle":"italic","color":"#27b7e9"},"encoding":{"text":{"field":"s"}}},
{"data":{"values":[{"t":-13.35,"d":982,"s":"G_O--M-M"}]},"mark":{"type":"text","angle":270,"align":"left","baseline":"alphabetic","fontSize":13,"fontStyle":"italic","color":"#27b7e9"},"encoding":{"text":{"field":"s"}}},
{"data":{"values":[{"t":-18.54,"d":847.6,"s":"B"}]},"mark":{"type":"text","angle":270,"align":"left","baseline":"alphabetic","fontSize":24,"fontWeight":"bold","fontStyle":"italic","color":"#a0a0a0"},"encoding":{"text":{"field":"s"}}},
{"data":{"values":[{"t":-19.16,"d":766,"s":"max"}]},"mark":{"type":"text","angle":270,"align":"left","baseline":"alphabetic","fontSize":13,"fontWeight":"bold","fontStyle":"italic","color":"#a0a0a0"},"encoding":{"text":{"field":"s"}}},
{"data":{"values":[{"t":-20.41,"t2":-45.7,"d":365.8,"d2":528.9}]},"mark":{"type":"rect","fill":"white","stroke":"#231f20","strokeWidth":2.5},"encoding":{"x2":{"field":"t2"},"y2":{"field":"d2"}}},
{"data":{"values":[{"t":-21.65,"d":476.9,"s":"E"}]},"mark":{"type":"text","align":"left","baseline":"alphabetic","fontSize":24,"fontWeight":"bold","fontStyle":"italic","color":"#231f20"},"encoding":{"text":{"field":"s"}}},
{"data":{"values":[{"t":-24.64,"d":488.9,"s":"N"}]},"mark":{"type":"text","align":"left","baseline":"alphabetic","fontSize":12,"fontWeight":"bold","fontStyle":"italic","color":"#231f20"},"encoding":{"text":{"field":"s"}}},
{"data":{"values":[{"t":-27.27,"d":476.9,"s":"≈ 295 m"}]},"mark":{"type":"text","align":"left","baseline":"alphabetic","fontSize":24,"color":"#231f20"},"encoding":{"text":{"field":"s"}}},
{"data":{"values":[{"t":-20.71,"d":669.8,"s":"B"}]},"mark":{"type":"text","align":"left","baseline":"alphabetic","fontSize":24,"fontWeight":"bold","fontStyle":"italic","color":"#a0a0a0"},"encoding":{"text":{"field":"s"}}},
{"data":{"values":[{"t":-23.65,"d":682,"s":"max"}]},"mark":{"type":"text","align":"left","baseline":"alphabetic","fontSize":13,"fontWeight":"bold","fontStyle":"italic","color":"#a0a0a0"},"encoding":{"text":{"field":"s"}}},
{"data":{"values":[{"t":-29.78,"d":669.8,"s":"≈\u00a0 1220 m"}]},"mark":{"type":"text","align":"left","baseline":"alphabetic","fontSize":24,"color":"#a0a0a0"},"encoding":{"text":{"field":"s"}}},
{"data":{"values":[{"t":-20.71,"d":817.8,"s":"E"}]},"mark":{"type":"text","align":"left","baseline":"alphabetic","fontSize":24,"fontStyle":"italic","color":"#27b7e9"},"encoding":{"text":{"field":"s"}}},
{"data":{"values":[{"t":-23.28,"d":831,"s":"G_O--M-M"}]},"mark":{"type":"text","align":"left","baseline":"alphabetic","fontSize":13,"fontStyle":"italic","color":"#27b7e9"},"encoding":{"text":{"field":"s"}}},
{"data":{"values":[{"t":-35.69,"d":817.8,"s":"≈ 590 m"}]},"mark":{"type":"text","align":"left","baseline":"alphabetic","fontSize":24,"color":"#27b7e9"},"encoding":{"text":{"field":"s"}}}
]}
]
}
